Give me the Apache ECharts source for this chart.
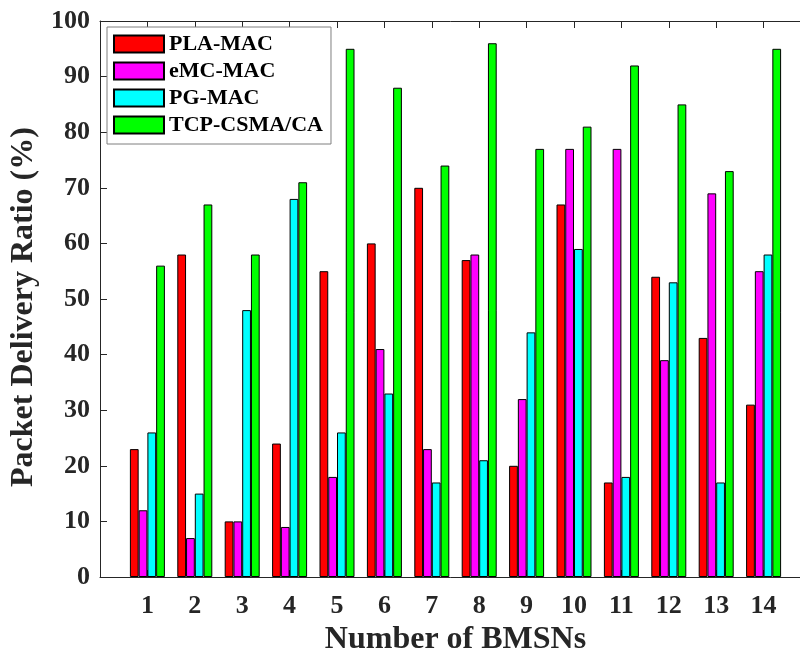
<!DOCTYPE html>
<html>
<head>
<meta charset="utf-8">
<script src="https://cdn.jsdelivr.net/npm/echarts@6/dist/echarts.min.js"></script>
<style>html,body{margin:0;padding:0;background:#fff;}#c{width:800px;height:653px;}</style>
</head>
<body>
<div id="c"></div>
<script>
const categories = [1,2,3,4,5,6,7,8,9,10,11,12,13,14];
const seriesNames = ['PLA-MAC','eMC-MAC','PG-MAC','TCP-CSMA/CA'];
const plaMac = [23,58,10,24,55,60,70,57,20,67,17,54,43,31];
const emcMac = [12,7,10,9,18,41,23,58,32,77,77,39,69,55];
const pgMac  = [26,15,48,68,26,33,17,21,44,59,18,53,17,58];
const tcpCsma = [56,67,58,71,95,88,74,96,77,81,92,85,73,95];
const yTicks = [0,10,20,30,40,50,60,70,80,90,100];
const colors = ['#ff0000','#ff00ff','#00ffff','#00ff00'];

const font = 'Liberation Serif, Times New Roman, serif';
const allData = [plaMac, emcMac, pgMac, tcpCsma];
const chart = echarts.init(document.getElementById('c'), null, {renderer:'canvas'});
const axisCol = '#262626';
chart.setOption({
  animation: false,
  backgroundColor: '#fff',
  grid: {left: 100, width: 711, top: 21, height: 556, containLabel: false, outerBoundsMode: 'none'},
  legend: {
    orient: 'vertical', left: 107, top: 27,
    padding: [6, 8, 8, 6], itemGap: 5, itemWidth: 50, itemHeight: 17,
    icon: 'rect',
    backgroundColor: '#fff', borderColor: '#7f7f7f', borderWidth: 1,
    textStyle: {fontFamily: font, fontWeight: 'bold', fontSize: 22, color: '#000'},
    data: seriesNames
  },
  xAxis: [{
    type: 'value', min: 0, max: 15, interval: 1, position: 'bottom',
    axisLine: {show: true, lineStyle: {color: axisCol, width: 1}},
    axisTick: {show: true, inside: true, length: 7, lineStyle: {color: axisCol}},
    splitLine: {show: false},
    axisLabel: {
      fontFamily: font, fontWeight: 'bold', fontSize: 26, color: axisCol, margin: 16,
      formatter: v => categories.indexOf(v) >= 0 ? String(v) : ''
    },
    name: 'Number of BMSNs', nameLocation: 'middle', nameGap: 40,
    nameTextStyle: {fontFamily: font, fontWeight: 'bold', fontSize: 32, color: axisCol}
  }, {
    type: 'value', min: 0, max: 15, interval: 1, position: 'top',
    axisLine: {show: true, lineStyle: {color: axisCol, width: 1}},
    axisTick: {show: true, inside: true, length: 7, lineStyle: {color: axisCol}},
    splitLine: {show: false},
    axisLabel: {show: false}
  }],
  yAxis: {
    type: 'value', min: 0, max: 100, interval: 10,
    axisLine: {show: true, lineStyle: {color: axisCol, width: 1}},
    axisTick: {show: true, inside: true, length: 7, lineStyle: {color: axisCol}},
    splitLine: {show: false},
    axisLabel: {fontFamily: font, fontWeight: 'bold', fontSize: 26, color: axisCol, margin: 10,
      formatter: v => yTicks.indexOf(v) >= 0 ? String(v) : ''},
    name: 'Packet Delivery Ratio (%)', nameLocation: 'middle', nameGap: 53,
    nameTextStyle: {fontFamily: font, fontWeight: 'bold', fontSize: 32, color: axisCol, padding: [0, 16, 0, 0]}
  },
  series: seriesNames.map((n, i) => ({
    name: n, type: 'bar', xAxisIndex: 0,
    barWidth: 8.75, barGap: '0%',
    itemStyle: {color: colors[i], borderColor: '#000', borderWidth: 1},
    data: categories.map((c, k) => [c, allData[i][k]])
  }))
});
</script>
</body>
</html>
